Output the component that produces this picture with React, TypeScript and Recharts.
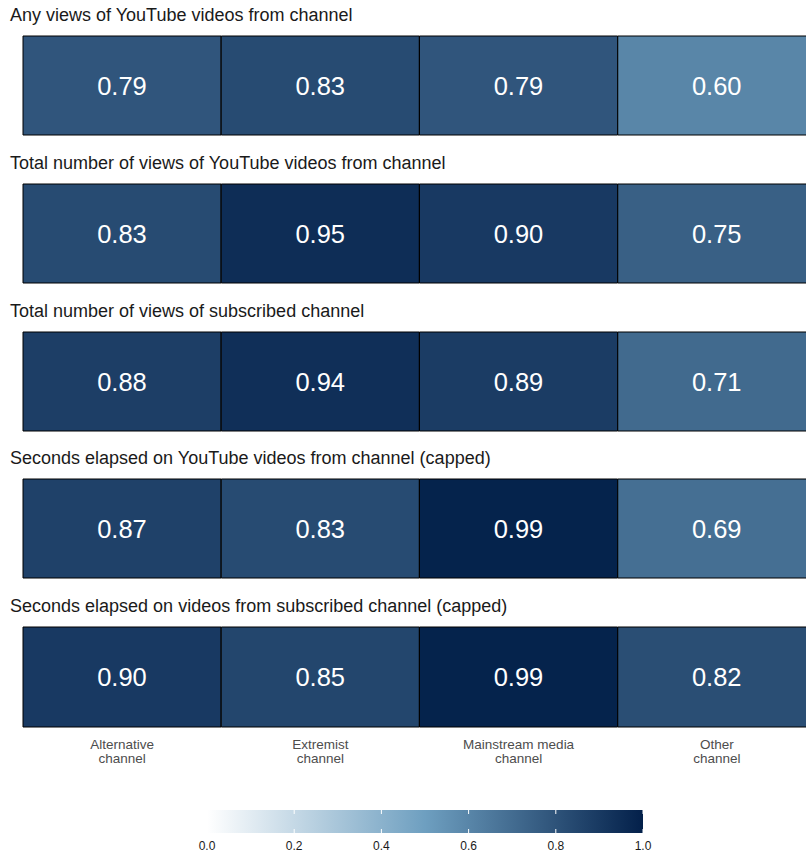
import React from 'react';
import {
  BarChart,
  Bar,
  Cell,
  XAxis,
  YAxis,
  LabelList,
  ComposedChart,
  ReferenceLine,
} from 'recharts';

const channels = ['Alternative\nchannel', 'Extremist\nchannel', 'Mainstream media\nchannel', 'Other\nchannel'];

const measures = [
  'Any views of YouTube videos from channel',
  'Total number of views of YouTube videos from channel',
  'Total number of views of subscribed channel',
  'Seconds elapsed on YouTube videos from channel (capped)',
  'Seconds elapsed on videos from subscribed channel (capped)',
];

const anyViews = [0.79, 0.83, 0.79, 0.6];
const totalViews = [0.83, 0.95, 0.9, 0.75];
const subscribedViews = [0.88, 0.94, 0.89, 0.71];
const secondsElapsed = [0.87, 0.83, 0.99, 0.69];
const secondsSubscribed = [0.9, 0.85, 0.99, 0.82];

const legendTicks = [0, 0.2, 0.4, 0.6, 0.8, 1];

const panelValues = [anyViews, totalViews, subscribedViews, secondsElapsed, secondsSubscribed];

const FONT = "'Liberation Sans', Arial, Helvetica, sans-serif";
const LOW = [255, 255, 255];
const MID = [110, 159, 192];
const HIGH = [3, 32, 74];

const hex = (c: number[]) =>
  '#' + c.map((v) => Math.round(v).toString(16).padStart(2, '0')).join('');

const fillFor = (v: number) => {
  const mix = (a: number[], b: number[], t: number) => a.map((x, i) => x + (b[i] - x) * t);
  if (v <= 0.5) return hex(mix(LOW, MID, v / 0.5));
  return hex(mix(MID, HIGH, (v - 0.5) / 0.5));
};

const PANEL_TOPS = [36, 184, 332, 479, 627];
const PANEL_H = 99;

const ChannelTick = (props: any) => {
  const { x, y, payload } = props;
  const lines = String(payload.value).split('\n');
  return (
    <text x={x} y={y} textAnchor="middle" fill="#4d4d4d" fontSize={13.5} fontFamily={FONT}>
      {lines.map((l, i) => (
        <tspan key={i} x={x} dy={i === 0 ? 22 : 14}>
          {l}
        </tspan>
      ))}
    </text>
  );
};

const Panel = ({ values, withAxis }: { values: number[]; withAxis: boolean }) => {
  const rows = channels.map((channel, i) => ({ channel, tile: 1, value: values[i] }));
  return (
    <BarChart
      width={817}
      height={PANEL_H + 2 + (withAxis ? 45 : 0)}
      data={rows}
      margin={{ top: 1, right: 1, bottom: 1, left: 23 }}
      barCategoryGap={0}
    >
      <XAxis
        dataKey="channel"
        hide={!withAxis}
        axisLine={false}
        tickLine={false}
        tickSize={0}
        tickMargin={0}
        height={withAxis ? 44 : 0}
        interval={0}
        tick={<ChannelTick />}
      />
      <YAxis hide domain={[0, 1]} />
      <Bar dataKey="tile" stroke="#000" strokeWidth={1} isAnimationActive={false}>
        {rows.map((r, i) => (
          <Cell key={i} fill={fillFor(r.value)} />
        ))}
        <LabelList
          dataKey="value"
          position="center"
          fill="#fff"
          fontSize={25.5}
          fontFamily={FONT}
          formatter={(v: any) => Number(v).toFixed(2)}
        />
      </Bar>
    </BarChart>
  );
};

export default function App() {
  const legendData = [{ name: 'scale', span: 1 }];
  return (
    <div
      style={{
        position: 'absolute',
        left: 0,
        top: 0,
        width: 806,
        height: 854,
        overflow: 'hidden',
        background: '#fff',
        fontFamily: FONT,
      }}
    >
      {measures.map((m, i) => (
        <React.Fragment key={m}>
          <div
            style={{
              position: 'absolute',
              left: 10,
              top: PANEL_TOPS[i] - 31,
              fontSize: 18,
              lineHeight: '21px',
              color: '#1a1a1a',
              whiteSpace: 'nowrap',
            }}
          >
            {m}
          </div>
          <div style={{ position: 'absolute', left: 0, top: PANEL_TOPS[i] - 1 }}>
            <Panel values={panelValues[i]} withAxis={i === panelValues.length - 1} />
          </div>
        </React.Fragment>
      ))}
      <div style={{ position: 'absolute', left: 0, top: 810 }}>
        <ComposedChart
          width={806}
          height={44}
          data={legendData}
          layout="vertical"
          margin={{ top: 0, right: 163, bottom: 0, left: 207 }}
          barCategoryGap={0}
        >
          <defs>
            <linearGradient id="legendGrad" x1="0" y1="0" x2="1" y2="0">
              <stop offset="0%" stopColor={hex(LOW)} />
              <stop offset="50%" stopColor={hex(MID)} />
              <stop offset="100%" stopColor={hex(HIGH)} />
            </linearGradient>
          </defs>
          <XAxis
            type="number"
            domain={[0, 1]}
            ticks={legendTicks}
            axisLine={false}
            tickLine={false}
            tickSize={0}
            tickMargin={8}
            height={21}
            tick={{ fill: '#1a1a1a', fontSize: 12, fontFamily: FONT }}
            tickFormatter={(v: number) => v.toFixed(1)}
          />
          <YAxis type="category" dataKey="name" hide />
          <Bar dataKey="span" fill="url(#legendGrad)" isAnimationActive={false} />
          {legendTicks.slice(1).map((t) => (
            <ReferenceLine
              key={t}
              x={t}
              stroke="#fff"
              strokeWidth={1}
              strokeDasharray="4 15"
            />
          ))}
        </ComposedChart>
      </div>
    </div>
  );
}
